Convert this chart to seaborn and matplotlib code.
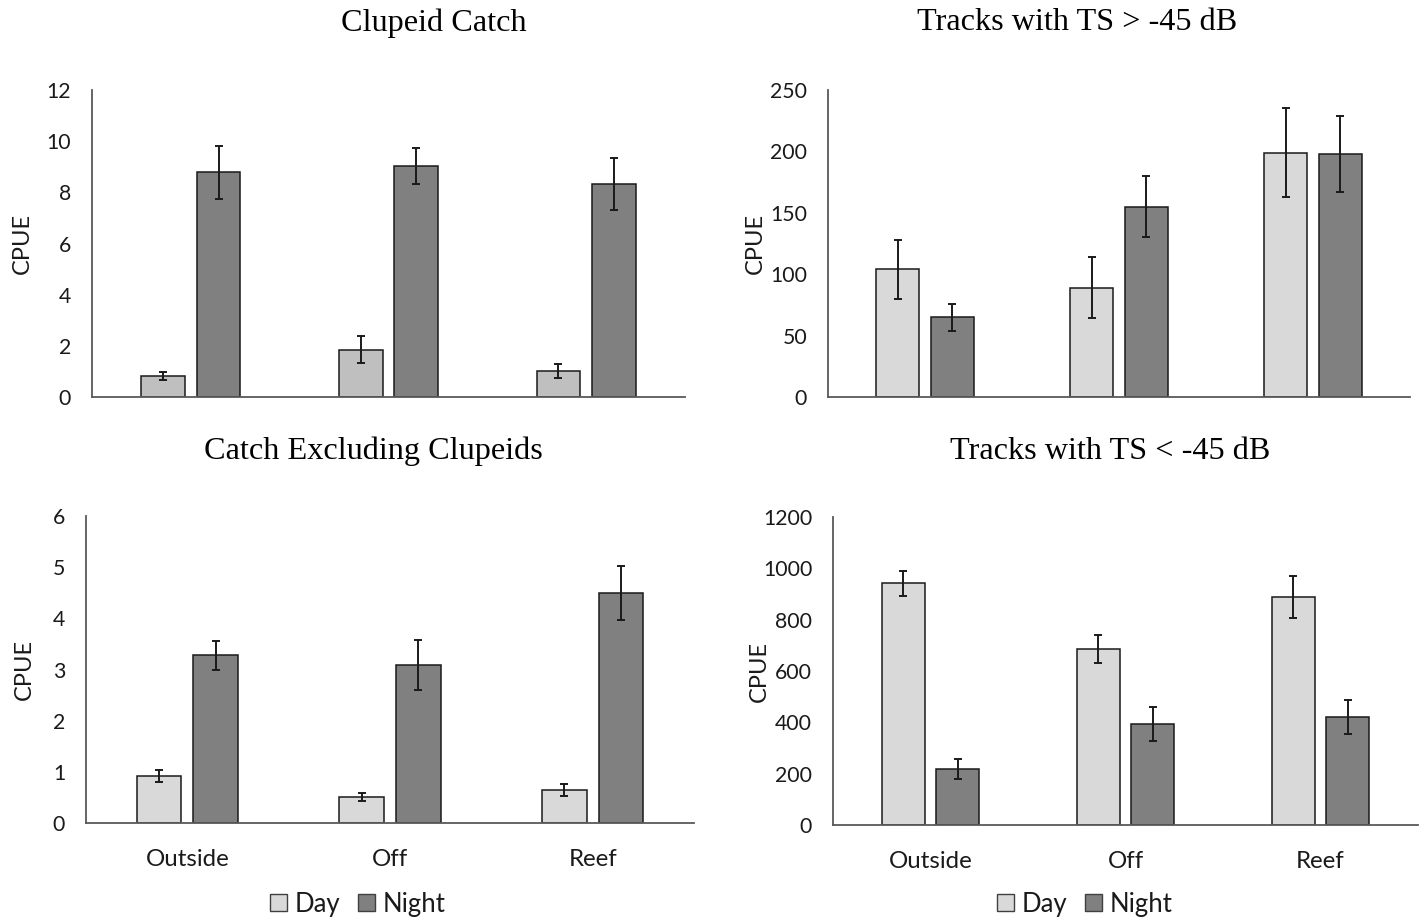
import matplotlib
matplotlib.use("Agg")
import matplotlib.pyplot as plt
from matplotlib.patches import Patch
import seaborn as sns
import pandas as pd

sites = ["Outside", "Off", "Reef"]
periods = ["Day", "Night"]

# Clupeid catch (CPUE)
clupeid_day = [0.82, 1.85, 1.02]
clupeid_night = [8.78, 9.03, 8.33]
clupeid_day_err = [0.17, 0.53, 0.28]
clupeid_night_err = [1.05, 0.72, 1.02]

# Catch excluding clupeids (CPUE)
other_day = [0.92, 0.51, 0.64]
other_night = [3.28, 3.09, 4.49]
other_day_err = [0.11, 0.08, 0.12]
other_night_err = [0.28, 0.49, 0.53]

# Tracks with TS > -45 dB
large_day = [104, 89, 199]
large_night = [65, 155, 198]
large_day_err = [24, 25, 36]
large_night_err = [11, 25, 31]

# Tracks with TS < -45 dB
small_day = [942, 686, 887]
small_night = [218, 393, 421]
small_day_err = [48, 55, 82]
small_night_err = [39, 67, 66]

DAY_DARK = "#bfbfbf"
DAY_LIGHT = "#d9d9d9"
NIGHT = "#808080"
AXIS_COLOR = "#595959"

sns.set_theme(style="white")
plt.rcParams["font.family"] = ["Lato", "DejaVu Sans"]

W, H = 1427, 922
fig = plt.figure(figsize=(W / 100, H / 100), dpi=100)


def px_axes(left, top, right, bottom):
    return fig.add_axes([left / W, 1 - bottom / H, (right - left) / W, (bottom - top) / H])


def panel(ax, day, night, day_err, night_err, ymax, step, day_color, show_x):
    df = pd.DataFrame({
        "site": sites * 2,
        "period": ["Day"] * 3 + ["Night"] * 3,
        "cpue": list(day) + list(night),
    })
    sns.barplot(data=df, x="site", y="cpue", hue="period", order=sites,
                hue_order=periods, palette=[day_color, NIGHT], width=0.56,
                gap=0.21, errorbar=None, edgecolor="#1a1a1a", linewidth=1.1,
                legend=False, ax=ax)
    for cont, err in zip(ax.containers, [day_err, night_err]):
        xs = [b.get_x() + b.get_width() / 2 for b in cont]
        ys = [b.get_height() for b in cont]
        ax.errorbar(xs, ys, yerr=err, fmt="none", ecolor="#1a1a1a",
                    elinewidth=1.4, capsize=3.2, capthick=1.4, zorder=5)
    ax.set_xlim(-0.5, 2.5)
    ax.set_ylim(0, ymax)
    ax.set_yticks([i * step for i in range(int(round(ymax / step)) + 1)])
    ax.set_ylabel("CPUE", fontsize=17, color="#1a1a1a")
    ax.set_xlabel("")
    for s in ["top", "right"]:
        ax.spines[s].set_visible(False)
    for s in ["left", "bottom"]:
        ax.spines[s].set_color(AXIS_COLOR)
        ax.spines[s].set_linewidth(1.3)
    ax.tick_params(axis="y", length=0, pad=15, labelsize=15.3, labelcolor="#1a1a1a")
    ax.tick_params(axis="x", length=0, pad=18.5, labelsize=17.3, labelcolor="#1a1a1a")
    if not show_x:
        ax.set_xticklabels([])


ax_tl = px_axes(92, 90, 685, 397)
ax_tr = px_axes(828, 90, 1410, 397)
ax_bl = px_axes(86, 516, 694, 823)
ax_br = px_axes(833, 517, 1418, 825)

panel(ax_tl, clupeid_day, clupeid_night, clupeid_day_err, clupeid_night_err, 12, 2, DAY_DARK, False)
panel(ax_tr, large_day, large_night, large_day_err, large_night_err, 250, 50, DAY_LIGHT, False)
panel(ax_bl, other_day, other_night, other_day_err, other_night_err, 6, 1, DAY_LIGHT, True)
panel(ax_br, small_day, small_night, small_day_err, small_night_err, 1200, 200, DAY_LIGHT, True)

ax_tl.yaxis.set_label_coords((33 - 92) / 593, 0.5)
ax_tr.yaxis.set_label_coords((766 - 828) / 582, 0.5)
ax_bl.yaxis.set_label_coords((35 - 86) / 608, 0.5)
ax_br.yaxis.set_label_coords((770 - 833) / 585, 0.5)

title_font = dict(family=["Liberation Serif", "DejaVu Serif"], fontsize=23.2, color="#000000",
                  ha="center", va="center")
fig.text(434 / W, 1 - 23 / H, "Clupeid Catch", **title_font)
fig.text(1077 / W, 1 - 23 / H, "Tracks with TS > -45 dB", **title_font)
fig.text(373 / W, 1 - 451 / H, "Catch Excluding Clupeids", **title_font)
fig.text(1110 / W, 1 - 451 / H, "Tracks with TS < -45 dB", **title_font)

handles = [Patch(facecolor=DAY_LIGHT, edgecolor="#404040", linewidth=1.0),
           Patch(facecolor=NIGHT, edgecolor="#404040", linewidth=1.0)]
for cx in (358 / W, 1085 / W):
    fig.legend(handles, periods, loc="center", bbox_to_anchor=(cx, 1 - 904 / H),
               ncol=2, frameon=False, fontsize=18.5, handlelength=0.65,
               handleheight=0.65, handletextpad=0.3, columnspacing=0.7,
               labelcolor="#1a1a1a")

fig.savefig("out.png", dpi=100, facecolor="white")
